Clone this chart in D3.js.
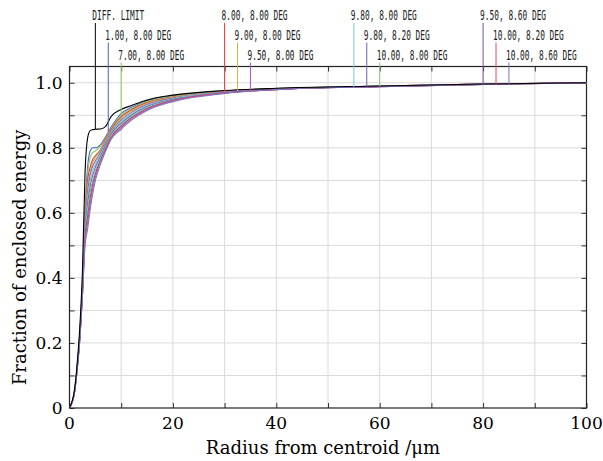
<!DOCTYPE html>
<html>
<head>
<meta charset="utf-8">
<script src="https://cdn.jsdelivr.net/npm/d3@7"></script>
<style>
  body { margin: 0; background: #fff; }
  svg { display: block; }
</style>
</head>
<body>
<div id="chart"></div>
<script>
// Encircled energy data
const radius = [0, 1, 1.5, 2, 2.5, 3, 3.5, 4, 4.5, 5, 6, 7, 8, 10, 12, 15, 20, 30, 40, 60, 80, 100];

const diffLimit = [0, .06, .14, .25, .42, .72, .83, .853, .856, .857, .858, .866, .895, .918, .93, .947, .962, .976, .983, .99, .996, 1];
const f1  = [0, .055, .13, .23, .38, .60, .74, .79, .80, .80, .81, .835, .862, .905, .925, .945, .96, .975, .982, .99, .996, 1];
const f2  = [0, .055, .13, .23, .38, .59, .72, .77, .785, .79, .805, .83, .858, .90, .921, .942, .958, .974, .982, .99, .996, 1];
const f3  = [0, .054, .13, .228, .375, .58, .70, .74, .765, .775, .795, .826, .855, .895, .917, .939, .956, .973, .981, .99, .996, 1];
const f4  = [0, .054, .128, .226, .37, .57, .68, .725, .755, .77, .792, .822, .851, .891, .913, .936, .955, .973, .981, .989, .996, 1];
const f5  = [0, .053, .126, .222, .364, .56, .664, .718, .744, .76, .786, .817, .847, .886, .909, .933, .953, .972, .981, .989, .996, 1];
const f6  = [0, .053, .125, .22, .36, .55, .645, .70, .73, .75, .78, .812, .843, .881, .905, .93, .951, .971, .98, .989, .995, 1];
const f7  = [0, .052, .124, .218, .356, .54, .626, .682, .716, .74, .774, .808, .84, .876, .901, .927, .949, .97, .98, .989, .995, 1];
const f8  = [0, .052, .123, .216, .352, .53, .607, .664, .702, .73, .768, .803, .836, .871, .897, .924, .947, .969, .98, .989, .995, 1];
const f9  = [0, .051, .122, .214, .348, .52, .588, .646, .688, .72, .762, .799, .832, .867, .893, .921, .946, .969, .979, .988, .995, 1];
const f10 = [0, .051, .121, .212, .344, .51, .569, .628, .674, .71, .756, .794, .829, .862, .889, .918, .944, .968, .979, .988, .995, 1];
const f11 = [0, .05, .12, .21, .34, .50, .55, .61, .66, .70, .75, .79, .825, .857, .885, .915, .942, .967, .979, .988, .995, 1];

const seriesNames = ['DIFF. LIMIT', '1.00, 8.00 DEG', '7.00, 8.00 DEG', '8.00, 8.00 DEG', '9.00, 8.00 DEG',
  '9.50, 8.00 DEG', '9.80, 8.00 DEG', '9.80, 8.20 DEG', '10.00, 8.00 DEG', '9.50, 8.60 DEG',
  '10.00, 8.20 DEG', '10.00, 8.60 DEG'];
const seriesValues = [diffLimit, f1, f2, f3, f4, f5, f6, f7, f8, f9, f10, f11];
const seriesColors = ['#000000', '#4466cc', '#88cc66', '#ee3333', '#bbbb44', '#aa55bb',
  '#77cccc', '#6666bb', '#88cc88', '#7755aa', '#ee4466', '#7777cc'];
// where each label's leader line meets the plot (radius) and which text row it sits in
const labelRadius = [5, 7.5, 10, 30, 32.5, 35, 55, 57.5, 60, 80, 82.5, 85];
const labelRow = [0, 1, 2, 0, 1, 2, 0, 1, 2, 0, 1, 2];

const xTicks = [0, 20, 40, 60, 80, 100];
const yTicks = [0, 0.2, 0.4, 0.6, 0.8, 1.0];

// layout
const W = 603, H = 461;
const margin = { top: 66.5, right: 16.5, bottom: 53, left: 69.5 };
const width = W - margin.left - margin.right;
const height = H - margin.top - margin.bottom;

const svg = d3.select('#chart').append('svg')
  .attr('width', W)
  .attr('height', H);

const g = svg.append('g')
  .attr('transform', `translate(${margin.left},${margin.top})`);

const x = d3.scaleLinear().domain([0, 100]).range([0, width]);
const y = d3.scaleLinear().domain([0, 1.05]).range([height, 0]);

// grid
g.append('g')
  .selectAll('line')
  .data(d3.range(10, 100, 10))
  .enter().append('line')
  .attr('x1', d => x(d)).attr('x2', d => x(d))
  .attr('y1', 0).attr('y2', height)
  .attr('stroke', '#dadada');
g.append('g')
  .selectAll('line')
  .data(d3.range(1, 11).map(d => d / 10))
  .enter().append('line')
  .attr('x1', 0).attr('x2', width)
  .attr('y1', d => y(d)).attr('y2', d => y(d))
  .attr('stroke', '#dadada');

// axes with inward ticks on all four sides
const minorX = d3.range(0, 101, 10);
const minorY = d3.range(0, 11).map(d => d / 10);
g.append('g').attr('transform', `translate(0,${height})`)
  .call(d3.axisBottom(x).tickValues(minorX).tickSize(-5).tickFormat(''));
g.append('g')
  .call(d3.axisTop(x).tickValues(minorX).tickSize(-5).tickFormat(''));
g.append('g')
  .call(d3.axisLeft(y).tickValues(minorY).tickSize(-5).tickFormat(''));
g.append('g').attr('transform', `translate(${width},0)`)
  .call(d3.axisRight(y).tickValues(minorY).tickSize(-5).tickFormat(''));
g.selectAll('.domain').remove();
g.selectAll('.tick line').attr('stroke', '#333');

// frame
g.append('rect')
  .attr('width', width).attr('height', height)
  .attr('fill', 'none').attr('stroke', '#222').attr('stroke-width', 1.2);

// tick labels
g.selectAll('.xlab')
  .data(xTicks)
  .enter().append('text')
  .attr('class', 'xlab')
  .attr('x', d => x(d))
  .attr('y', height + 21)
  .attr('text-anchor', 'middle')
  .attr('font-family', 'DejaVu Serif')
  .attr('font-size', 17)
  .text(d => d);
g.selectAll('.ylab')
  .data(yTicks)
  .enter().append('text')
  .attr('class', 'ylab')
  .attr('x', -7)
  .attr('y', d => y(d) + 6)
  .attr('text-anchor', 'end')
  .attr('font-family', 'DejaVu Serif')
  .attr('font-size', 17)
  .text(d => d === 0 ? '0' : d3.format('.1f')(d));

// axis names
svg.append('text')
  .attr('x', margin.left + width / 2 - 5)
  .attr('y', H - 7)
  .attr('text-anchor', 'middle')
  .attr('font-family', 'DejaVu Serif')
  .attr('font-size', 18)
  .text('Radius from centroid /\u03bcm');
svg.append('text')
  .attr('transform', `translate(26,${margin.top + y(0.5) + 12}) rotate(-90)`)
  .attr('text-anchor', 'middle')
  .attr('font-family', 'DejaVu Serif')
  .attr('font-size', 18)
  .text('Fraction of enclosed energy');

// curves
const line = d3.line()
  .x((d, i) => x(radius[i]))
  .y(d => y(d))
  .curve(d3.curveMonotoneX);

const order = d3.range(1, seriesValues.length).concat([0]);
g.append('g')
  .selectAll('path')
  .data(order)
  .enter().append('path')
  .attr('d', i => line(seriesValues[i]))
  .attr('fill', 'none')
  .attr('stroke', i => seriesColors[i])
  .attr('stroke-width', 1.1);

// value of a series at radius r (linear between samples)
const valueAt = (vals, r) => {
  const j = Math.max(1, d3.bisectLeft(radius, r));
  const t = (r - radius[j - 1]) / (radius[j] - radius[j - 1]);
  return vals[j - 1] + t * (vals[j] - vals[j - 1]);
};

// labels with leader lines (narrow mono text, squeezed horizontally)
const rowBase = [20, 39.5, 59.5];
const labels = svg.append('g');
seriesNames.forEach((name, i) => {
  const px = margin.left + x(labelRadius[i]);
  const row = labelRow[i];
  labels.append('line')
    .attr('x1', px).attr('x2', px)
    .attr('y1', rowBase[row] + 3)
    .attr('y2', margin.top + y(valueAt(seriesValues[i], labelRadius[i])))
    .attr('stroke', seriesColors[i])
    .attr('stroke-width', 1);
  labels.append('text')
    .attr('transform', `translate(${px - 3},${rowBase[row]}) scale(0.56,1)`)
    .attr('font-family', 'DejaVu Sans Mono')
    .attr('font-size', 14)
    .attr('fill', '#222')
    .text(name);
});
</script>
</body>
</html>
